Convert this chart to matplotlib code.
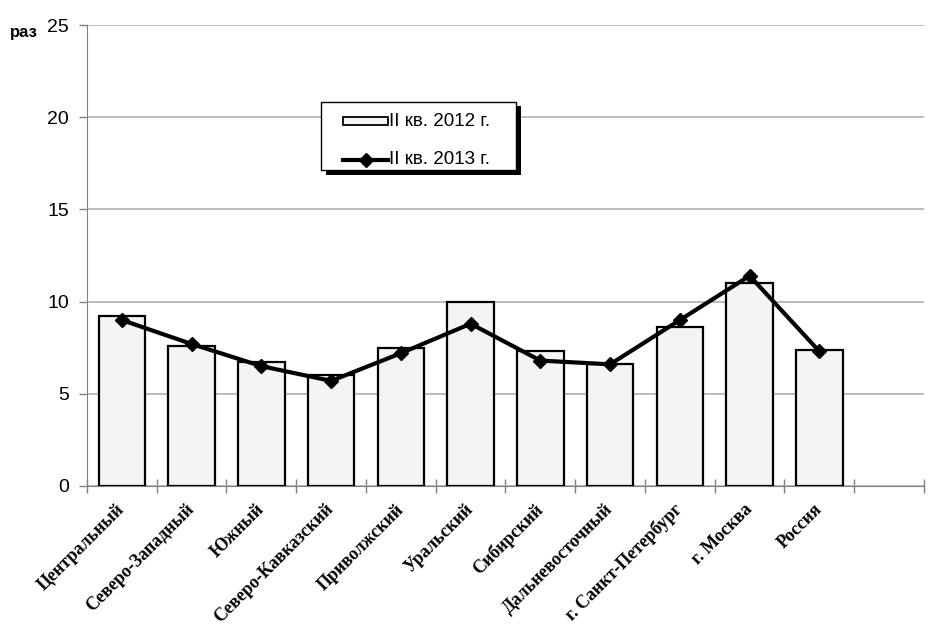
import matplotlib
matplotlib.use("Agg")
import matplotlib.pyplot as plt
import numpy as np
from matplotlib.patches import Rectangle
from matplotlib.lines import Line2D

categories = ["Центральный", "Северо-Западный", "Южный", "Северо-Кавказский",
              "Приволжский", "Уральский", "Сибирский", "Дальневосточный",
              "г. Санкт-Петербург", "г. Москва", "Россия"]
values_2012 = [9.2, 7.6, 6.7, 6.0, 7.5, 10.0, 7.3, 6.6, 8.6, 11.0, 7.4]
values_2013 = [9.0, 7.7, 6.5, 5.7, 7.2, 8.8, 6.8, 6.6, 9.0, 11.4, 7.3]
yticks = [0, 5, 10, 15, 20, 25]
label_2012 = "II кв. 2012 г."
label_2013 = "II кв. 2013 г."

W, H = 935, 638
fig = plt.figure(figsize=(W/100, H/100), dpi=100)
ax = fig.add_axes([87/W, 1-486/H, (924-87)/W, (486-25)/H])

x = np.arange(len(categories))
ax.bar(x, values_2012, width=0.67, color="#f4f4f4", edgecolor="black",
       linewidth=1.6, zorder=3)
ax.plot(x, values_2013, color="black", lw=3.0, marker="D", markersize=7.5,
        zorder=4)

ax.set_xlim(-0.5, 11.5)
ax.set_ylim(0, 25)
ax.set_yticks(yticks)
ax.yaxis.grid(True, color="#b0b0b0", lw=1.2, zorder=0)
for s in ["top", "right"]:
    ax.spines[s].set_visible(False)
ax.spines["left"].set_color("#808080")
ax.spines["bottom"].set_color("#808080")
ax.tick_params(axis="y", length=6, width=1, color="#808080", pad=7, labelsize=14)
for t in ax.get_yticklabels():
    t.set_fontfamily("Liberation Sans")

ax.set_xticks(x)
ax.set_xticklabels(categories, rotation=45, ha="right", va="center",
                   rotation_mode="anchor",
                   fontfamily="Liberation Serif", fontweight="bold", fontsize=13)
ax.tick_params(axis="x", which="major", length=0, pad=15)
ax.set_xticks(np.arange(-0.5, 12.0, 1.0), minor=True)
ax.tick_params(axis="x", which="minor", length=10, width=1, color="#808080",
               direction="inout")

fig.text(10/W, 1-32/H, "раз", fontsize=12, fontweight="bold",
         fontfamily="Liberation Sans", va="center", ha="left")

# legend (drawn in figure pixel coordinates)
def py(y):
    return (H - y) / H
def px(xv):
    return xv / W

fig.add_artist(Rectangle((px(326), py(175)), px(521) - px(326), py(106) - py(175),
                         transform=fig.transFigure, facecolor="black",
                         edgecolor="none", zorder=9))
fig.add_artist(Rectangle((px(320.5), py(169.5)), px(516) - px(320.5), py(102) - py(169.5),
                         transform=fig.transFigure, facecolor="white",
                         edgecolor="black", lw=1.0, zorder=10))
fig.add_artist(Rectangle((px(343), py(125)), px(388) - px(343), py(117) - py(125),
                         transform=fig.transFigure, facecolor="#f4f4f4",
                         edgecolor="black", lw=1.3, zorder=11))
fig.add_artist(Line2D([px(343), px(388)], [py(160.5), py(160.5)],
                      transform=fig.transFigure, color="black", lw=3.0,
                      marker=None, zorder=11))
fig.add_artist(Line2D([px(365.5)], [py(160.5)], transform=fig.transFigure,
                      color="black", marker="D", markersize=7.5, zorder=12))
fig.text(px(389), py(122), label_2012, fontsize=13.5, fontfamily="Liberation Sans",
         va="center", ha="left", zorder=12)
fig.text(px(389), py(160), label_2013, fontsize=13.5, fontfamily="Liberation Sans",
         va="center", ha="left", zorder=12)

fig.savefig("out.png", dpi=100)
